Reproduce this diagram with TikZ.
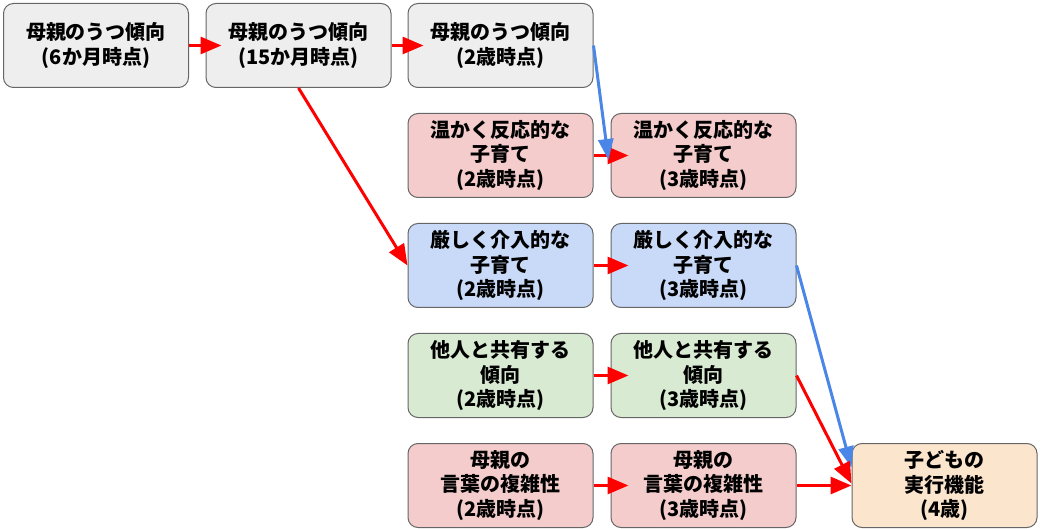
\documentclass[tikz,border=0pt]{standalone}
\usepackage{fontspec}
\setmainfont{Noto Sans CJK JP}
\usepackage{xcolor}
\usetikzlibrary{arrows.meta}
\definecolor{boxline}{HTML}{666666}
\definecolor{grayfill}{HTML}{EEEEEE}
\definecolor{redfill}{HTML}{F4CCCC}
\definecolor{bluefill}{HTML}{C9DAF8}
\definecolor{greenfill}{HTML}{D9EAD3}
\definecolor{orangefill}{HTML}{FCE5CD}
\definecolor{bluearrow}{HTML}{4A86E8}
\tikzset{
  stage/.style={draw=boxline, line width=1pt, rounded corners=10pt, minimum width=185pt, minimum height=84pt,
    align=center, inner sep=0pt, font=\fontsize{20}{24.5}\selectfont\bfseries},
  redarr/.style={draw=red, line width=3pt, -{Triangle[length=21pt,width=17pt]}},
  bluearr/.style={draw=bluearrow, line width=3pt, -{Triangle[length=21pt,width=15pt]}}
}
\begin{document}
\begin{tikzpicture}[x=1pt,y=-1pt]
\useasboundingbox (0,0) rectangle (1042,529);
\node[stage, fill=grayfill] (dep6m) at (96,45.5) {母親のうつ傾向\\(6か月時点)};
\node[stage, fill=grayfill] (dep15m) at (298.5,45.5) {母親のうつ傾向\\(15か月時点)};
\node[stage, fill=grayfill] (dep2y) at (500.5,45.5) {母親のうつ傾向\\(2歳時点)};

\node[stage, fill=redfill] (warm2y) at (500.5,155.5) {温かく反応的な\\子育て\\(2歳時点)};
\node[stage, fill=redfill] (warm3y) at (703.5,155.5) {温かく反応的な\\子育て\\(3歳時点)};
\node[stage, fill=bluefill] (harsh2y) at (500.5,265.5) {厳しく介入的な\\子育て\\(2歳時点)};
\node[stage, fill=bluefill] (harsh3y) at (703.5,265.5) {厳しく介入的な\\子育て\\(3歳時点)};
\node[stage, fill=greenfill] (share2y) at (500.5,375.5) {他人と共有する\\傾向\\(2歳時点)};
\node[stage, fill=greenfill] (share3y) at (703.5,375.5) {他人と共有する\\傾向\\(3歳時点)};
\node[stage, fill=redfill] (talk2y) at (500.5,485.5) {母親の\\言葉の複雑性\\(2歳時点)};
\node[stage, fill=redfill] (talk3y) at (703.5,485.5) {母親の\\言葉の複雑性\\(3歳時点)};
\node[stage, fill=orangefill] (exec4y) at (944.5,485.5) {子どもの\\実行機能\\(4歳)};

\draw[redarr] (dep6m.east) -- ([xshift=16pt]dep15m.west);
\draw[redarr] (dep15m.east) -- ([xshift=16pt]dep2y.west);
\draw[redarr] (warm2y.east) -- ([xshift=18pt]warm3y.west);
\draw[redarr] (harsh2y.east) -- ([xshift=18pt]harsh3y.west);
\draw[redarr] (share2y.east) -- ([xshift=18pt]share3y.west);
\draw[redarr] (talk2y.east) -- ([xshift=18pt]talk3y.west);
\draw[redarr] (dep15m.south) -- (harsh2y.west);
\draw[bluearr] (dep2y.east) -- ([xshift=-2pt,yshift=-4.5pt]warm3y.west);
\draw[bluearr] (harsh3y.east) -- ([yshift=18pt]exec4y.west);
\draw[redarr] (share3y.east) -- ([yshift=2pt]exec4y.west);
\draw[redarr] (talk3y.east) -- (exec4y.west);
\end{tikzpicture}
\end{document}
